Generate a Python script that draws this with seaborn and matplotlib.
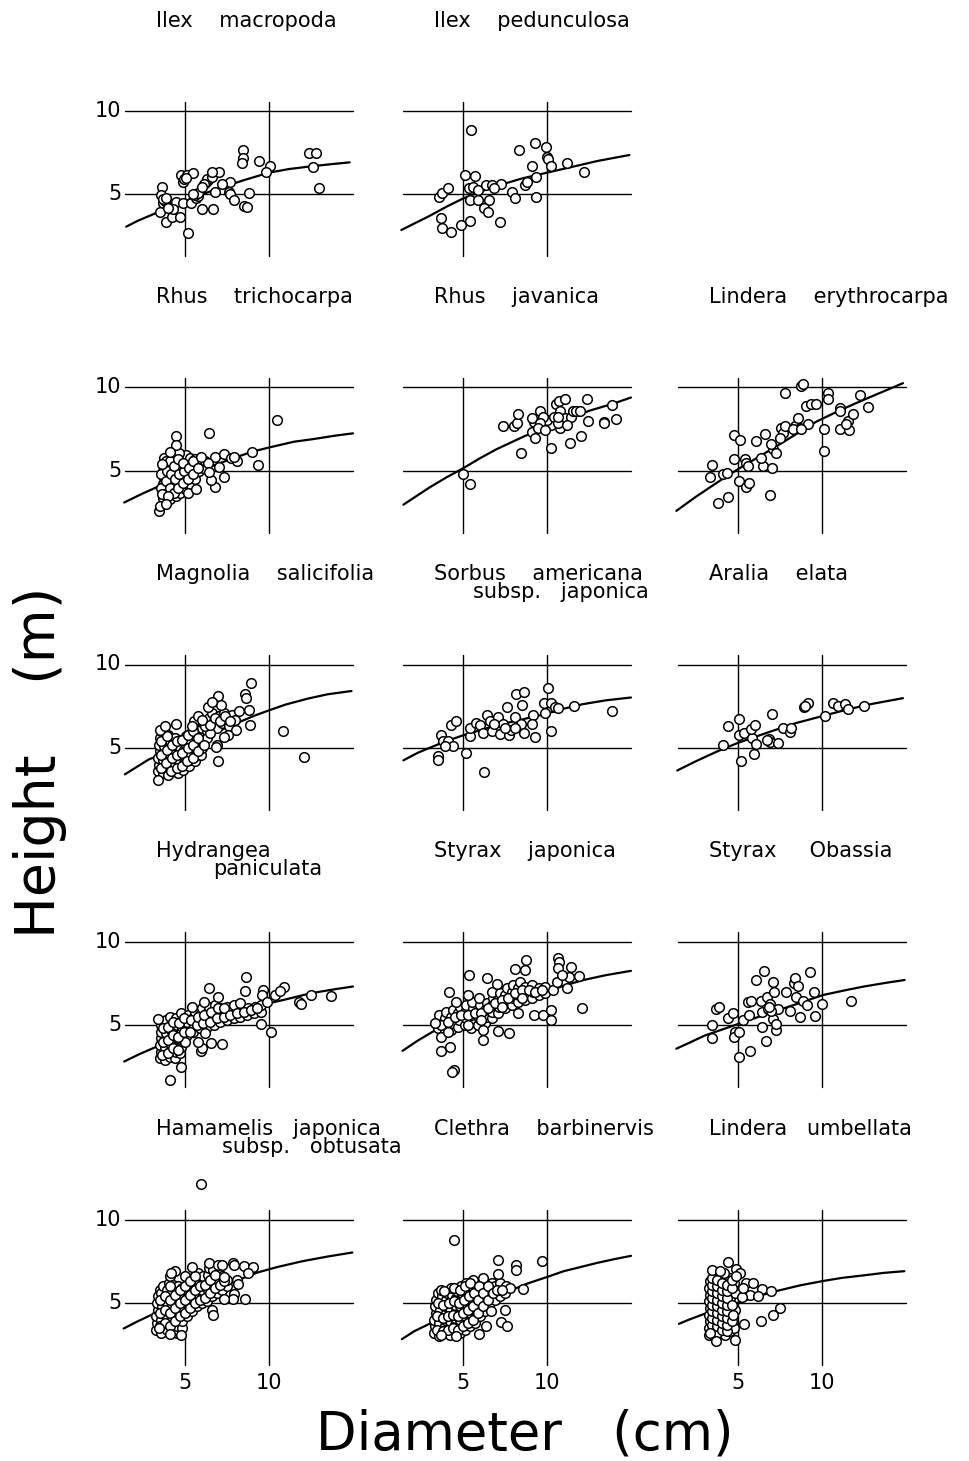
import numpy as np
import seaborn as sns
import matplotlib.pyplot as plt

sns.set_theme(style="white")
plt.rcParams['font.family'] = ['DejaVu Sans']
plt.rcParams['text.color'] = 'black'

# diameter (cm), height (m), one array per species
ilex_mac = np.array([[3.65,5.46],[3.58,4.96],[3.72,4.46],[3.80,4.60],[3.68,4.70],[3.87,4.76],[3.54,3.96],[3.87,3.36],[4.21,3.66],[4.71,3.62],[4.44,4.56],[4.89,4.46],[5.16,2.66],[4.89,5.76],[4.77,6.16],[5.11,6.16],[5.45,6.26],[4.95,5.90],[5.05,6.00],[5.34,4.46],[5.68,4.76],[5.75,4.90],[5.62,4.95],[5.79,5.06],[6.01,4.10],[6.69,4.10],[6.24,5.76],[6.35,5.85],[6.30,5.95],[6.15,5.60],[6.58,6.06],[7.03,6.36],[6.58,6.36],[6.80,5.16],[7.70,5.76],[7.59,5.16],[7.70,5.00],[7.93,4.66],[8.49,4.30],[8.72,4.26],[8.79,5.06],[8.45,7.66],[8.45,7.16],[8.38,6.86],[9.39,7.02],[10.07,6.70],[9.84,6.36],[12.37,7.46],[12.82,7.46],[12.60,6.66],[12.98,5.36],[6.01,5.46],[4.30,4.10],[4.00,4.20],[5.50,5.00],[7.20,5.60]])
ilex_mac_fit = np.array([[1.5,3.06],[2.2,3.42],[3.0,3.76],[4.0,4.2],[5.0,4.6],[6.0,5.0],[7.0,5.35],[8.5,5.85],[10.0,6.3],[11.2,6.52],[12.5,6.68],[13.7,6.81],[14.8,6.92]])

ilex_ped = np.array([[5.50,8.86],[3.58,4.86],[3.74,5.06],[4.08,5.36],[3.67,3.56],[3.74,2.96],[4.31,2.76],[4.89,3.16],[5.41,3.42],[5.11,6.16],[5.69,6.10],[5.34,5.36],[5.57,5.46],[5.92,5.26],[5.41,4.66],[5.92,4.66],[6.56,4.66],[6.26,4.16],[6.49,3.96],[7.22,3.36],[6.38,5.56],[6.72,5.56],[7.29,5.60],[6.83,5.36],[7.94,5.16],[8.10,4.76],[8.33,7.66],[8.67,5.56],[8.78,5.76],[9.13,6.70],[9.36,6.06],[9.31,8.06],[9.93,7.86],[10.00,7.26],[10.05,7.10],[10.23,6.70],[9.36,4.82],[11.19,6.86],[12.22,6.36]])
ilex_ped_fit = np.array([[1.33,2.86],[2.0,3.2],[3.0,3.7],[4.0,4.25],[5.0,4.75],[6.0,5.15],[7.0,5.5],[8.5,5.95],[10.0,6.3],[11.5,6.65],[13.0,7.0],[14.9,7.36]])

rhus_tri = np.array([[3.7,3.4],[3.8,3.8],[3.7,4.2],[3.75,4.6],[3.7,5.0],[3.8,5.4],[3.75,5.8],[3.9,3.6],[4.0,4.0],[3.95,4.4],[4.0,4.8],[3.95,5.2],[4.05,5.6],[4.1,3.3],[4.2,3.8],[4.25,4.2],[4.2,4.6],[4.3,5.0],[4.2,5.4],[4.3,5.8],[4.45,3.5],[4.5,3.9],[4.45,4.3],[4.55,4.7],[4.5,5.1],[4.6,5.5],[4.5,5.9],[4.7,3.7],[4.8,4.1],[4.75,4.5],[4.85,4.9],[4.8,5.3],[4.9,5.7],[5.0,3.9],[5.05,4.3],[5.1,4.7],[5.0,5.1],[5.1,5.5],[5.05,5.95],[5.3,4.2],[5.35,4.6],[5.3,5.0],[5.4,5.4],[5.3,5.8],[5.6,4.5],[5.55,4.9],[5.65,5.3],[5.6,5.7],[5.85,5.0],[5.9,5.5],[6.1,5.2],[6.2,5.6],[3.6,4.0],[3.6,4.8],[4.35,6.0],[4.65,6.1],
    [3.85,3.6],[3.85,4.4],[3.9,5.0],[3.85,5.6],[4.1,4.0],[4.15,4.8],[4.1,5.6],[4.35,3.7],[4.4,4.5],[4.35,5.3],[4.6,4.0],[4.65,4.8],[4.6,5.7],[4.9,4.3],[4.95,5.0],[4.9,5.5],[5.2,4.5],[5.25,5.2],[5.45,4.8],[5.5,5.6],[5.75,5.2],[3.65,3.6],[3.65,5.4],[4.0,3.5],[5.15,3.7],
    [10.49,8.05],[6.42,7.25],[4.47,7.11],[4.47,6.55],[4.11,6.12],[3.44,2.57],[3.49,2.90],[3.89,3.03],[5.64,3.90],[6.76,4.02],[7.33,4.62],[6.53,4.46],[7.04,5.26],[6.78,5.82],[7.31,6.02],[7.76,5.76],[8.09,5.62],[7.93,5.82],[8.98,6.12],[9.33,5.36],[6.38,5.46],[6.42,4.96],[5.93,5.86]])
rhus_tri_fit = np.array([[1.38,3.1],[2.5,3.65],[3.5,4.1],[5.0,4.7],[6.5,5.25],[8.0,5.8],[9.0,6.15],[10.0,6.4],[11.5,6.75],[12.6,6.9],[14.0,7.12],[15.0,7.25]])

rhus_jav = np.array([[5.02,4.82],[5.39,4.20],[7.41,7.69],[8.03,7.69],[8.20,7.85],[8.25,8.39],[8.46,6.10],[9.12,7.35],[9.28,6.95],[9.23,7.95],[9.12,8.20],[9.56,8.60],[10.22,6.39],[10.55,9.04],[10.70,9.18],[11.10,9.34],[10.77,8.60],[10.77,7.55],[10.22,7.75],[10.00,8.05],[9.78,8.25],[10.44,8.25],[11.10,8.15],[11.43,8.25],[11.54,8.60],[11.75,8.60],[11.97,8.60],[11.38,6.69],[12.04,7.09],[12.41,9.30],[12.46,7.99],[13.40,7.95],[13.40,7.85],[13.84,8.94],[14.13,8.10],[9.56,7.85],[9.45,7.55],[9.89,7.45],[10.66,7.85],[11.20,7.75],[10.66,8.25]])
rhus_jav_fit = np.array([[1.45,2.97],[3.0,4.0],[4.0,4.6],[5.0,5.15],[6.0,5.75],[7.0,6.3],[8.7,7.1],[10.0,7.6],[11.0,8.0],[12.5,8.6],[14.0,9.05],[15.0,9.4]])

lind_ery = np.array([[3.43,5.36],[3.35,4.66],[4.11,4.84],[4.35,4.86],[3.81,3.06],[4.40,3.46],[4.74,5.74],[4.76,7.16],[5.10,6.86],[5.06,4.40],[5.46,4.06],[5.65,4.30],[5.40,5.74],[5.50,5.50],[5.60,5.30],[6.09,6.80],[6.49,5.30],[6.39,5.80],[6.59,7.20],[6.88,3.56],[7.04,5.16],[7.08,6.30],[7.28,6.10],[6.98,6.60],[7.58,7.60],[7.68,7.30],[7.48,7.00],[7.78,7.70],[8.41,7.70],[8.67,7.60],[8.57,8.20],[9.17,7.80],[9.07,8.90],[9.37,9.04],[9.66,9.04],[7.78,9.66],[8.77,10.06],[8.87,10.20],[10.10,7.50],[10.10,6.20],[10.36,9.70],[10.36,9.34],[11.05,8.80],[11.09,8.60],[11.05,7.50],[11.59,7.46],[11.55,8.00],[11.85,8.40],[11.45,7.80],[12.28,9.54],[12.74,8.86],[8.27,7.54],[8.77,7.50]])
lind_ery_fit = np.array([[1.33,2.6],[2.5,3.45],[3.91,4.4],[5.0,5.1],[6.0,5.7],[7.0,6.3],[8.3,7.1],[9.66,7.95],[11.0,8.6],[12.0,9.05],[13.04,9.5],[14.82,10.26]])

magnolia = np.array([[3.4,3.6],[3.45,4.0],[3.4,4.4],[3.5,4.8],[3.45,5.2],[3.5,5.6],[3.6,6.0],[3.7,3.5],[3.75,3.9],[3.7,4.3],[3.8,4.7],[3.75,5.1],[3.8,5.5],[4.0,3.4],[4.05,3.8],[4.0,4.2],[4.1,4.6],[4.05,5.0],[4.1,5.4],[4.0,5.8],[4.3,3.6],[4.35,4.0],[4.3,4.4],[4.4,4.8],[4.35,5.2],[4.4,5.6],[4.6,3.5],[4.65,3.9],[4.6,4.3],[4.7,4.7],[4.65,5.1],[4.7,5.5],[4.9,3.7],[4.95,4.1],[5.0,4.5],[4.95,4.9],[5.0,5.3],[5.05,5.7],[5.25,3.9],[5.3,4.3],[5.25,4.7],[5.35,5.1],[5.3,5.5],[5.35,5.9],[5.6,4.2],[5.65,4.6],[5.6,5.0],[5.7,5.4],[5.65,5.8],[5.6,6.2],[5.95,4.6],[6.0,5.0],[5.95,5.4],[6.05,5.8],[6.0,6.2],[5.55,6.6],[5.8,6.9],[6.1,6.5],[6.3,6.0],[6.4,6.8],[6.6,7.1],[6.7,6.6],[6.9,6.2],[7.0,6.9],[7.2,6.5],[7.3,7.1],[7.5,6.8],[7.6,6.3],[7.8,7.0],[8.0,6.7],[8.2,7.2],[6.3,5.6],[6.5,5.9],
    [3.55,3.8],[3.6,4.6],[3.6,5.4],[3.85,4.1],[3.9,4.9],[3.9,5.7],[4.15,3.6],[4.2,4.4],[4.2,5.2],[4.5,3.8],[4.5,4.6],[4.55,5.4],[4.8,3.9],[4.8,4.7],[4.85,5.5],[5.1,4.2],[5.15,5.0],[5.2,5.8],[5.45,4.4],[5.5,5.2],[5.5,6.0],[5.8,4.8],[5.8,5.6],[6.15,5.2],[6.2,6.3],[6.5,6.4],[6.8,6.8],[7.1,6.6],[7.4,6.9],[7.7,6.6],[6.0,6.7],[5.4,6.3],
    [3.41,3.06],[3.52,6.09],[3.78,6.29],[4.45,6.43],[6.95,8.13],[6.39,7.48],[7.17,7.58],[6.62,7.78],[8.94,8.87],[8.56,8.21],[8.61,7.98],[8.78,7.28],[8.87,6.39],[8.05,6.09],[7.57,5.75],[7.32,5.67],[6.88,5.20],[6.84,5.04],[6.95,4.21],[10.82,5.99],[12.08,4.44]])
magnolia_fit = np.array([[1.42,3.41],[2.85,4.31],[4.0,4.75],[5.0,5.2],[6.0,5.6],[7.0,6.0],[8.0,6.45],[9.16,6.94],[10.0,7.25],[11.0,7.6],[12.3,7.95],[13.47,8.21],[14.91,8.41]])

sorbus = np.array([[3.51,4.50],[3.51,4.25],[3.68,5.79],[3.79,5.40],[4.12,5.40],[4.30,6.39],[4.56,6.63],[4.39,5.10],[3.90,5.10],[5.15,4.70],[6.27,3.57],[5.39,5.69],[5.44,6.19],[5.77,6.49],[5.99,6.39],[6.21,5.89],[6.43,7.00],[6.58,6.59],[6.75,6.03],[7.08,6.88],[7.37,6.43],[7.19,5.83],[7.63,7.48],[7.74,5.79],[7.85,6.09],[8.07,6.88],[8.18,8.21],[8.62,8.37],[8.51,7.58],[8.46,6.45],[8.62,5.89],[9.17,7.00],[9.12,6.43],[9.28,5.63],[9.87,7.08],[9.82,7.68],[10.04,8.61],[10.22,5.99],[10.26,7.68],[10.48,7.48],[10.66,7.38],[11.58,7.52],[13.88,7.22],[6.86,6.43],[7.52,6.19],[8.07,6.19]])
sorbus_fit = np.array([[1.45,4.25],[2.3,4.7],[3.25,5.1],[4.0,5.4],[5.0,5.75],[6.0,6.05],[7.0,6.35],[8.5,6.7],[10.0,7.05],[11.0,7.35],[12.13,7.62],[13.5,7.85],[15.0,8.02]])

aralia = np.array([[4.09,5.16],[4.39,6.32],[5.04,6.74],[5.18,4.23],[5.04,5.77],[5.34,5.91],[5.83,5.57],[5.77,6.11],[6.03,6.40],[6.09,5.22],[5.97,4.66],[6.82,5.51],[6.92,5.38],[7.02,7.04],[7.41,5.32],[7.67,6.21],[8.10,5.97],[8.14,6.17],[8.93,7.43],[9.19,7.69],[10.18,6.90],[10.67,7.69],[10.97,7.49],[11.36,7.63],[11.56,7.35],[12.49,7.49],[6.75,5.45],[8.98,7.50]])
aralia_fit = np.array([[1.38,3.64],[2.5,4.2],[3.75,4.78],[5.0,5.3],[6.0,5.65],[7.0,6.0],[8.5,6.5],[10.0,6.9],[11.5,7.3],[12.94,7.63],[14.82,7.98]])

hydrangea = np.array([[3.5,3.0],[3.55,3.4],[3.5,3.8],[3.6,4.2],[3.55,4.6],[3.6,5.0],[3.8,2.9],[3.85,3.3],[3.8,3.7],[3.9,4.1],[3.85,4.5],[3.9,4.9],[3.85,5.3],[4.1,3.1],[4.15,3.5],[4.1,3.9],[4.2,4.3],[4.15,4.7],[4.2,5.1],[4.1,5.5],[4.4,3.0],[4.45,3.4],[4.4,3.8],[4.5,4.2],[4.45,4.6],[4.5,5.0],[4.45,5.4],[4.7,3.3],[4.75,3.7],[4.8,4.1],[4.75,4.5],[4.8,4.9],[4.8,5.3],[4.75,5.7],[5.1,4.4],[5.15,4.8],[5.1,5.2],[5.2,5.6],[5.5,4.6],[5.55,5.0],[5.5,5.4],[5.6,5.8],[5.9,4.8],[5.95,5.2],[5.9,5.6],[6.0,6.0],[6.3,4.9],[6.35,5.3],[6.3,5.7],[6.4,6.1],[6.7,5.0],[6.75,5.4],[6.7,5.8],[6.8,6.2],[7.1,5.2],[7.15,5.6],[7.1,6.0],[7.5,5.3],[7.55,5.7],[7.5,6.1],[7.9,5.4],[7.95,5.8],[7.9,6.2],[8.3,5.5],[8.35,5.9],[8.3,6.3],[8.7,5.6],[8.75,6.0],[9.1,5.7],[9.15,6.1],[9.5,5.8],[9.5,6.2],[5.4,6.1],[6.2,4.5],[5.0,4.0],
    [3.65,3.2],[3.7,4.0],[3.7,4.8],[4.0,3.3],[4.0,4.1],[4.0,4.9],[4.3,3.6],[4.3,4.4],[4.3,5.2],[4.6,3.5],[4.6,4.3],[4.65,5.1],[4.95,4.6],[4.95,5.4],[5.3,4.6],[5.35,5.3],[5.7,5.0],[5.75,5.5],[6.1,5.1],[6.15,5.6],[6.5,5.2],[6.55,5.8],[6.9,5.4],[6.95,6.0],[7.3,5.5],[7.35,6.0],[7.7,5.6],[8.1,5.7],[8.5,5.8],[8.9,5.9],[9.3,6.0],
    [4.11,1.70],[4.78,2.50],[3.40,5.36],[6.40,7.20],[6.96,6.70],[8.62,7.90],[8.56,7.04],[9.67,7.10],[9.60,6.80],[10.38,6.80],[10.89,7.30],[10.67,7.04],[11.78,6.36],[11.93,6.24],[12.51,6.80],[13.67,6.74],[10.11,4.56],[9.51,5.04],[7.22,3.84],[6.56,3.90],[5.96,3.44],[6.00,3.64],[5.78,4.00],[6.11,6.36],[9.89,6.40]])
hydrangea_fit = np.array([[1.38,2.8],[2.3,3.25],[3.33,3.7],[4.2,4.05],[5.0,4.4],[6.0,4.8],[7.0,5.2],[8.5,5.8],[10.0,6.3],[10.89,6.5],[12.5,6.9],[14.0,7.15],[15.0,7.3]])

styrax_jap = np.array([[3.5,4.8],[3.55,5.2],[3.6,5.6],[3.9,4.6],[3.95,5.0],[3.9,5.4],[4.0,5.8],[4.3,4.7],[4.35,5.1],[4.3,5.5],[4.4,5.9],[4.7,4.9],[4.75,5.3],[4.7,5.7],[4.8,6.1],[5.1,5.0],[5.15,5.4],[5.1,5.8],[5.2,6.2],[5.5,4.8],[5.55,5.2],[5.5,5.6],[5.6,6.0],[5.55,6.4],[5.9,5.0],[5.95,5.4],[5.9,5.8],[6.0,6.2],[5.95,6.6],[6.3,5.1],[6.35,5.5],[6.3,5.9],[6.4,6.3],[6.7,5.4],[6.75,5.8],[6.7,6.2],[6.8,6.6],[6.75,7.0],[7.1,5.7],[7.15,6.1],[7.1,6.5],[7.2,6.9],[7.5,6.0],[7.55,6.4],[7.5,6.8],[7.6,7.2],[7.9,6.2],[7.95,6.6],[7.9,7.0],[8.0,7.4],[8.3,6.4],[8.35,6.8],[8.3,7.2],[8.4,7.6],[8.7,6.5],[8.75,6.9],[8.7,7.3],[9.1,6.6],[9.15,7.0],[9.1,7.4],[9.5,6.8],[9.5,7.2],[9.9,6.9],[9.9,7.3],[6.2,4.7],[4.6,6.4],
    [3.7,5.0],[4.1,5.2],[4.5,5.5],[4.9,5.6],[5.3,5.6],[5.7,5.7],[6.1,5.7],[6.5,6.0],[6.9,6.3],[7.3,6.5],[7.7,6.6],[8.1,6.9],[8.5,7.1],[8.9,7.1],[9.3,7.0],[9.7,7.1],[5.3,5.0],[6.1,5.3],[7.3,6.1],[8.5,6.6],
    [4.44,2.30],[4.33,2.16],[4.16,7.00],[5.33,8.00],[5.27,6.80],[3.67,3.44],[4.22,3.70],[3.67,4.30],[4.11,4.60],[3.33,5.10],[6.22,4.10],[7.11,4.64],[7.71,4.50],[6.44,7.80],[7.00,7.44],[8.07,8.36],[8.73,8.90],[8.67,8.30],[10.67,9.04],[10.73,8.76],[10.67,8.44],[11.44,8.50],[11.33,7.90],[11.93,7.96],[11.22,7.20],[12.07,6.00],[9.22,5.60],[9.78,5.60],[10.22,5.90],[10.22,5.30],[8.29,5.70],[10.33,7.10],[10.6,7.6],[10.9,8.0]])
styrax_jap_fit = np.array([[1.4,3.44],[2.3,4.05],[3.22,4.6],[4.0,4.95],[5.0,5.35],[6.0,5.75],[7.0,6.1],[8.5,6.55],[10.0,7.0],[11.0,7.35],[12.22,7.7],[13.5,7.98],[15.0,8.24]])

styrax_oba = np.array([[3.45,5.02],[3.45,4.22],[3.71,5.96],[3.85,6.06],[4.40,5.40],[4.70,5.70],[4.80,4.56],[4.76,4.26],[5.04,4.56],[5.04,3.07],[5.69,3.41],[5.30,5.32],[5.63,5.60],[5.60,6.35],[5.75,6.41],[6.05,7.69],[6.53,8.25],[6.39,6.45],[6.43,5.76],[6.43,4.86],[6.65,4.06],[6.75,6.69],[6.88,6.25],[7.08,7.55],[7.14,6.95],[7.08,5.36],[7.24,4.70],[7.28,5.06],[7.38,5.96],[7.88,6.95],[8.08,5.82],[8.33,7.49],[8.37,7.81],[8.47,6.65],[8.57,7.35],[8.67,5.46],[8.87,6.45],[9.13,6.22],[9.27,8.19],[9.52,6.95],[9.56,5.56],[10.00,6.25],[11.71,6.41],[6.79,5.96],[6.95,5.85],[6.85,6.05]])
styrax_oba_fit = np.array([[1.33,3.57],[2.2,3.97],[3.02,4.36],[4.0,4.7],[5.0,5.05],[6.0,5.4],[7.0,5.75],[8.5,6.25],[10.06,6.79],[11.5,7.1],[12.5,7.3],[13.8,7.52],[14.92,7.69]])

hamamelis = np.array([[3.3,3.4],[3.35,3.8],[3.3,4.2],[3.4,4.6],[3.35,5.0],[3.4,5.4],[3.5,5.8],[3.6,3.2],[3.65,3.6],[3.6,4.0],[3.7,4.4],[3.65,4.8],[3.7,5.2],[3.6,5.6],[3.7,6.0],[3.9,3.4],[3.95,3.8],[3.9,4.2],[4.0,4.6],[3.95,5.0],[4.0,5.4],[3.95,5.8],[4.05,6.2],[4.1,6.6],[4.2,3.3],[4.25,3.7],[4.2,4.1],[4.3,4.5],[4.25,4.9],[4.3,5.3],[4.25,5.7],[4.3,6.1],[4.5,3.2],[4.55,3.6],[4.5,4.0],[4.6,4.4],[4.55,4.8],[4.6,5.2],[4.55,5.6],[4.6,6.0],[4.8,3.5],[4.85,3.9],[4.8,4.3],[4.9,4.7],[4.85,5.1],[4.9,5.5],[4.85,5.9],[5.1,4.2],[5.15,4.6],[5.1,5.0],[5.2,5.4],[5.15,5.8],[5.2,6.2],[5.4,4.5],[5.45,4.9],[5.4,5.3],[5.5,5.7],[5.45,6.1],[5.5,6.5],[5.7,4.8],[5.75,5.2],[5.7,5.6],[5.8,6.0],[5.75,6.4],[5.8,6.8],[6.0,5.0],[6.05,5.4],[6.0,5.8],[6.1,6.2],[6.05,6.6],[6.3,5.1],[6.35,5.5],[6.3,5.9],[6.4,6.3],[6.35,6.7],[6.4,7.1],[6.6,5.4],[6.65,5.8],[6.6,6.2],[6.7,6.6],[6.65,7.0],[6.9,5.6],[6.95,6.0],[6.9,6.4],[7.0,6.8],[7.2,5.8],[7.25,6.2],[7.2,6.6],[7.5,6.0],[7.5,6.4],[6.6,4.6],[5.0,6.6],[4.4,6.9],
    [3.5,3.6],[3.5,4.4],[3.5,5.2],[3.8,3.8],[3.8,4.6],[3.8,5.4],[4.1,3.6],[4.1,4.4],[4.1,5.2],[4.1,6.0],[4.4,3.9],[4.4,4.7],[4.4,5.5],[4.7,4.2],[4.7,5.0],[4.7,5.8],[5.0,4.4],[5.0,5.2],[5.0,6.0],[5.3,4.7],[5.3,5.5],[5.3,6.3],[5.6,5.0],[5.6,5.8],[5.6,6.6],[5.9,5.2],[5.9,6.0],[6.2,5.3],[6.2,6.1],[6.5,5.6],[6.5,6.4],[6.8,5.9],[6.8,6.7],[7.1,6.1],[7.35,6.3],
    [5.95,12.12],[4.12,3.16],[4.78,3.06],[3.45,3.50],[4.16,6.82],[5.40,7.16],[6.44,7.42],[6.99,7.30],[7.21,7.26],[7.88,7.42],[7.94,7.26],[8.54,7.20],[9.03,7.16],[8.76,6.82],[8.10,6.36],[8.14,6.16],[7.94,5.56],[7.88,5.26],[8.58,5.26],[6.66,4.30],[7.32,6.56],[7.32,5.26]])
hamamelis_fit = np.array([[1.35,3.46],[2.1,3.85],[2.96,4.26],[4.0,4.62],[5.0,5.0],[6.0,5.45],[7.0,5.9],[8.0,6.3],[9.31,6.82],[10.5,7.15],[12.0,7.5],[13.5,7.78],[14.96,8.02]])

clethra = np.array([[3.3,3.2],[3.35,3.6],[3.3,4.0],[3.4,4.4],[3.35,4.8],[3.4,5.2],[3.5,5.6],[3.6,3.0],[3.65,3.4],[3.6,3.8],[3.7,4.2],[3.65,4.6],[3.7,5.0],[3.75,5.4],[3.7,5.8],[3.9,3.2],[3.95,3.6],[3.9,4.0],[4.0,4.4],[3.95,4.8],[4.0,5.2],[4.05,5.6],[4.2,3.1],[4.25,3.5],[4.2,3.9],[4.3,4.3],[4.25,4.7],[4.3,5.1],[4.35,5.5],[4.3,5.9],[4.5,3.3],[4.55,3.7],[4.5,4.1],[4.6,4.5],[4.55,4.9],[4.6,5.3],[4.65,5.7],[4.8,3.2],[4.85,3.6],[4.8,4.0],[4.9,4.4],[4.85,4.8],[4.9,5.2],[4.95,5.6],[4.9,6.0],[5.1,3.4],[5.15,3.8],[5.1,4.2],[5.2,4.6],[5.15,5.0],[5.2,5.4],[5.25,5.8],[5.2,6.2],[5.4,3.6],[5.45,4.0],[5.4,4.4],[5.5,4.8],[5.45,5.2],[5.5,5.6],[5.55,6.0],[5.7,3.8],[5.75,4.2],[5.7,4.6],[5.8,5.0],[5.75,5.4],[5.8,5.8],[5.85,6.2],[6.0,4.2],[6.05,4.6],[6.0,5.0],[6.1,5.4],[6.05,5.8],[6.1,6.2],[6.3,4.5],[6.35,4.9],[6.3,5.3],[6.4,5.7],[6.35,6.1],[6.6,5.0],[6.65,5.4],[6.6,5.8],[6.7,6.2],[6.9,5.2],[6.95,5.6],[6.9,6.0],[7.2,5.4],[7.25,5.8],[7.2,6.2],[7.5,5.6],[7.55,6.0],[7.8,5.9],[5.6,6.4],[6.2,6.5],
    [3.45,3.4],[3.45,4.2],[3.5,5.0],[3.8,3.3],[3.8,4.1],[3.8,4.9],[3.85,5.7],[4.1,3.4],[4.1,4.2],[4.15,5.0],[4.4,3.5],[4.4,4.3],[4.45,5.1],[4.45,5.9],[4.7,3.4],[4.7,4.2],[4.75,5.0],[4.8,5.8],[5.0,3.6],[5.0,4.4],[5.05,5.2],[5.1,6.0],[5.3,3.8],[5.3,4.6],[5.35,5.4],[5.4,6.2],[5.6,4.0],[5.6,4.8],[5.65,5.6],[5.9,4.4],[5.9,5.2],[5.95,6.0],[6.2,4.8],[6.2,5.6],[6.5,5.2],[6.5,6.0],[6.8,5.6],[7.05,5.8],[7.35,5.8],
    [4.44,8.80],[7.10,7.60],[8.13,7.26],[8.17,6.96],[9.69,7.52],[7.10,6.76],[8.55,5.86],[6.65,4.52],[7.50,4.60],[7.28,3.86],[7.61,3.62],[6.38,3.62],[5.94,3.16],[4.60,3.02],[3.71,3.06]])
clethra_fit = np.array([[1.36,2.82],[2.1,3.3],[2.92,3.7],[4.0,4.15],[5.0,4.6],[6.0,5.0],[7.0,5.4],[8.84,6.16],[10.0,6.55],[11.0,6.9],[12.0,7.15],[13.0,7.4],[14.0,7.62],[15.0,7.82]])

lind_umb = np.array([[3.3,3.1],[3.3,3.5],[3.35,3.9],[3.3,4.3],[3.35,4.7],[3.3,5.1],[3.35,5.5],[3.3,5.9],[3.35,6.3],[3.6,3.0],[3.6,3.4],[3.65,3.8],[3.6,4.2],[3.65,4.6],[3.6,5.0],[3.65,5.4],[3.6,5.8],[3.65,6.2],[3.6,6.6],[3.9,3.2],[3.9,3.6],[3.95,4.0],[3.9,4.4],[3.95,4.8],[3.9,5.2],[3.95,5.6],[3.9,6.0],[3.95,6.4],[4.2,3.1],[4.2,3.5],[4.25,3.9],[4.2,4.3],[4.25,4.7],[4.2,5.1],[4.25,5.5],[4.2,5.9],[4.25,6.3],[4.5,3.3],[4.5,3.7],[4.55,4.1],[4.5,4.5],[4.55,4.9],[4.5,5.3],[4.55,5.7],[4.5,6.1],[4.55,6.5],[4.75,3.5],[4.8,4.6],[4.8,5.6],[4.75,6.2],
    [3.45,3.3],[3.45,3.7],[3.45,4.1],[3.45,4.5],[3.45,4.9],[3.45,5.3],[3.45,5.7],[3.45,6.1],[3.45,6.5],[3.75,3.2],[3.75,3.6],[3.75,4.0],[3.75,4.4],[3.75,4.8],[3.75,5.2],[3.75,5.6],[3.75,6.0],[3.75,6.4],[4.05,3.4],[4.05,3.8],[4.05,4.2],[4.05,4.6],[4.05,5.0],[4.05,5.4],[4.05,5.8],[4.05,6.2],[4.35,3.3],[4.35,3.7],[4.35,4.1],[4.35,4.5],[4.35,4.9],[4.35,5.3],[4.35,5.7],[4.35,6.1],[4.65,3.9],[4.65,4.9],[4.65,5.9],[4.7,4.3],
    [3.48,7.00],[4.43,7.44],[4.17,6.80],[4.86,7.06],[5.10,6.80],[4.67,6.40],[5.45,6.20],[5.91,6.20],[6.44,5.86],[6.97,5.70],[5.69,5.46],[6.20,5.40],[5.26,5.34],[7.52,4.70],[7.07,4.30],[6.34,3.90],[5.35,3.74],[3.68,2.74],[4.80,2.80],[3.33,3.20],[3.9,6.9],[4.9,6.6],[5.3,5.9]])
lind_umb_fit = np.array([[1.48,3.74],[2.1,4.0],[2.89,4.3],[4.0,4.65],[5.0,5.0],[6.0,5.35],[7.42,5.74],[8.7,6.05],[10.0,6.3],[11.2,6.5],[12.5,6.65],[13.7,6.8],[14.9,6.9]])

# (row, col, name, second line, x of second line, points, fitted curve)
panels = [
    (0, 0, "Ilex    macropoda", None, 0, ilex_mac, ilex_mac_fit),
    (0, 1, "Ilex    pedunculosa", None, 0, ilex_ped, ilex_ped_fit),
    (1, 0, "Rhus    trichocarpa", None, 0, rhus_tri, rhus_tri_fit),
    (1, 1, "Rhus    javanica", None, 0, rhus_jav, rhus_jav_fit),
    (1, 2, "Lindera    erythrocarpa", None, 0, lind_ery, lind_ery_fit),
    (2, 0, "Magnolia    salicifolia", None, 0, magnolia, magnolia_fit),
    (2, 1, "Sorbus    americana", "subsp.   japonica", 5.6, sorbus, sorbus_fit),
    (2, 2, "Aralia    elata", None, 0, aralia, aralia_fit),
    (3, 0, "Hydrangea", "paniculata", 6.65, hydrangea, hydrangea_fit),
    (3, 1, "Styrax    japonica", None, 0, styrax_jap, styrax_jap_fit),
    (3, 2, "Styrax     Obassia", None, 0, styrax_oba, styrax_oba_fit),
    (4, 0, "Hamamelis   japonica", "subsp.   obtusata", 7.2, hamamelis, hamamelis_fit),
    (4, 1, "Clethra    barbinervis", None, 0, clethra, clethra_fit),
    (4, 2, "Lindera   umbellata", None, 0, lind_umb, lind_umb_fit),
]

W, H = 969, 1461
col_x5 = [185, 463, 738]      # pixel x of D = 5 cm in each column
row_y10 = [111, 387.5, 664.5, 941.5, 1219.5]   # pixel y of H = 10 m in each row
PX_X, PX_Y = 16.8, 16.67
XL, YL = (0, 16), (0, 13)

fig = plt.figure(figsize=(W / 100, H / 100), dpi=100)

for row, col, name, sub, subx, pts, fit in panels:
    left = col_x5[col] - (5 - XL[0]) * PX_X
    top = row_y10[row] - (YL[1] - 10) * PX_Y
    w = (XL[1] - XL[0]) * PX_X
    h = (YL[1] - YL[0]) * PX_Y
    ax = fig.add_axes([left / W, 1 - (top + h) / H, w / W, h / H])
    ax.set_xlim(XL)
    ax.set_ylim(YL)
    ax.axis("off")

    # cross-hair reference lines at 5 and 10
    for v in (5, 10):
        ax.plot([1.4, 15], [v, v], color="black", lw=1.0, zorder=1)
        ax.plot([v, v], [1.3, 10.55], color="black", lw=1.0, zorder=1)

    sns.lineplot(x=fit[:, 0], y=fit[:, 1], ax=ax, sort=False, estimator=None,
                 color="black", linewidth=1.6, zorder=2)
    sns.scatterplot(x=pts[:, 0], y=pts[:, 1], ax=ax, s=48, color="white",
                    edgecolor="black", linewidth=1.1, zorder=3)

    ax.text(3.3, 15.4, name, fontsize=15, ha="left", va="center", clip_on=False)
    if sub:
        ax.text(subx, 14.35, sub, fontsize=15, ha="left", va="center", clip_on=False)

    if col == 0:
        ax.text(1.2, 10, "10", fontsize=15, ha="right", va="center")
        ax.text(1.2, 5, "5", fontsize=15, ha="right", va="center")
    if row == 4:
        ax.text(5, 0.2, "5", fontsize=15, ha="center", va="center")
        ax.text(10, 0.2, "10", fontsize=15, ha="center", va="center")

fig.text(40 / W, 1 - 762 / H, "Height    (m)", fontsize=40, rotation=90,
         ha="center", va="center")
fig.text(525 / W, 1 - 1449 / H, "Diameter   (cm)", fontsize=38,
         ha="center", va="baseline")

fig.savefig("out.png", dpi=100)
